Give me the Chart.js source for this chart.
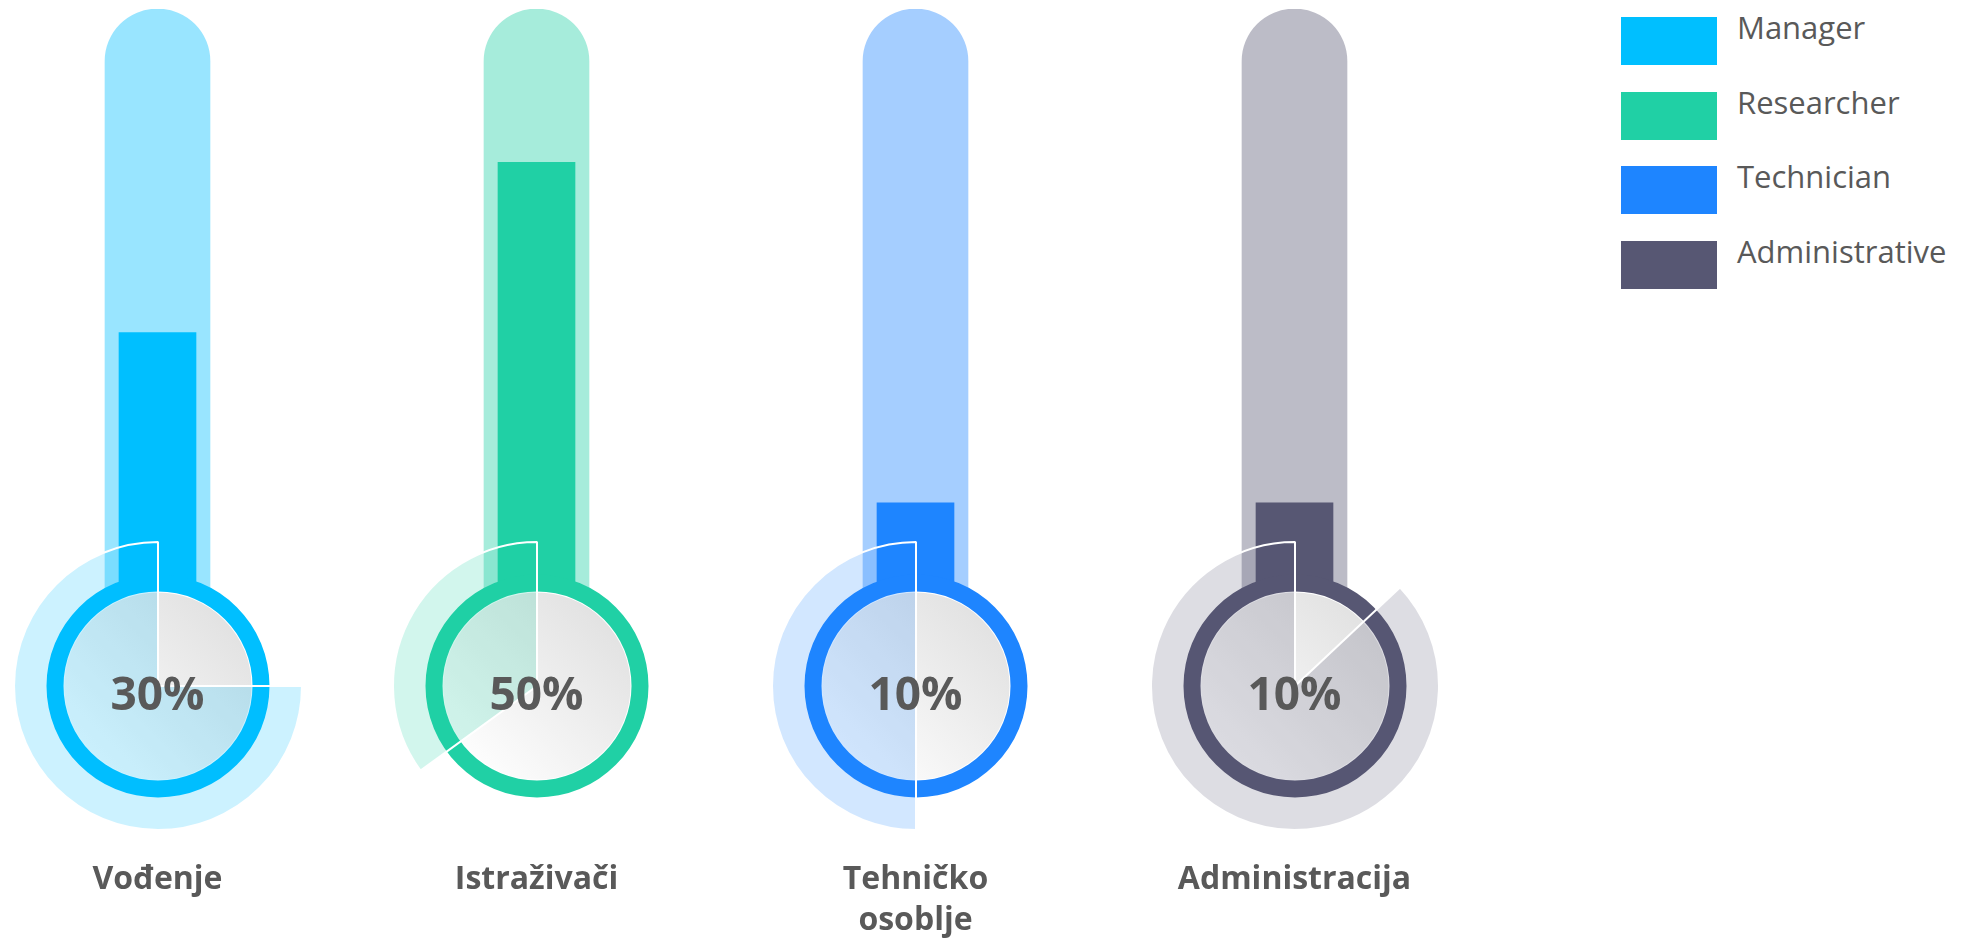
<!DOCTYPE html>
<html><head><meta charset="utf-8">
<script src="https://cdn.jsdelivr.net/npm/chart.js@4"></script>
<style>
html,body{margin:0;padding:0;width:1963px;height:938px;overflow:hidden;background:#fff;font-family:"Open Sans",sans-serif;}
#stage{position:relative;width:1963px;height:938px;overflow:hidden;}
canvas{position:absolute;}
.pct{position:absolute;width:220px;height:46px;line-height:46px;text-align:center;font:700 46px "Open Sans",sans-serif;color:#595959;white-space:nowrap;}
.lg-box{position:absolute;left:1621px;width:96px;height:48px;}
.lg-txt{position:absolute;left:1737px;font:400 31px "Open Sans",sans-serif;color:#595959;line-height:31px;white-space:nowrap;}
</style></head><body><div id="stage">
<canvas id="bars" width="1516" height="941" style="left:-32px;top:0"></canvas>
</div>
<script>
// ---- data ----
const categories = [['Vođenje'], ['Istraživači'], ['Tehničko', 'osoblje'], ['Administracija']];
const seriesNames = ['Manager', 'Researcher', 'Technician', 'Administrative'];
const fillValues = [30, 50, 10, 10];        // thermometer fill (%)
const tubeValues = [68, 68, 68, 68];        // thermometer capacity on the same scale
const sectorValues = [75, 35, 50, 87];      // share of the pale sector around the bulb (%)
const colors = ['#00BFFF', '#20D0A5', '#1E85FF', '#575773'];
const axisMin = -30.9, axisMax = 68, bulbBase = -8;

// ---- helpers ----
function rgba(hex, a) {
  const n = parseInt(hex.slice(1), 16);
  return `rgba(${(n >> 16) & 255},${(n >> 8) & 255},${n & 255},${a})`;
}
Chart.defaults.font.family = '"Open Sans", sans-serif';
Chart.defaults.animation = false;

const stage = document.getElementById('stage');
const BAR_OFFSET_X = -32;
const BULB_Y = 686;

// ---- thermometer tubes & fills ----
const barChart = new Chart(document.getElementById('bars'), {
  type: 'bar',
  data: {
    labels: categories,
    datasets: [
      {
        label: 'fill',
        data: fillValues.map(v => [bulbBase, v]),
        backgroundColor: colors,
        barThickness: 77,
        grouped: false,
        borderSkipped: 'start'
      },
      {
        label: 'tube',
        data: tubeValues.map(v => [bulbBase, v]),
        backgroundColor: colors.map(c => rgba(c, 0.4)),
        barThickness: 105,
        grouped: false,
        borderSkipped: 'start',
        borderRadius: { topLeft: 52.5, topRight: 52.5, bottomLeft: 0, bottomRight: 0 }
      }
    ]
  },
  options: {
    responsive: false,
    events: [],
    layout: { padding: { top: 9, left: 0, right: 0, bottom: 0 } },
    plugins: { legend: { display: false }, tooltip: { enabled: false } },
    scales: {
      x: {
        grid: { display: false },
        border: { display: false },
        ticks: {
          autoSkip: false, maxRotation: 0, padding: 0,
          color: '#595959',
          font: { size: 32, weight: 'bold', lineHeight: 1.28 }
        }
      },
      y: { display: false, min: axisMin, max: axisMax }
    }
  }
});

// ---- bulbs ----
categories.forEach((cat, i) => {
  const cx = barChart.scales.x.getPixelForValue(i) + BAR_OFFSET_X;
  const size = 300;

  const mk = () => {
    const c = document.createElement('canvas');
    c.width = size; c.height = size;
    c.style.left = (cx - size / 2) + 'px';
    c.style.top = (BULB_Y - size / 2) + 'px';
    stage.appendChild(c);
    return c;
  };

  // ring + inner glass disc
  new Chart(mk(), {
    type: 'pie',
    data: {
      labels: [seriesNames[i]],
      datasets: [
        { data: [100], backgroundColor: [colors[i]], borderWidth: 0, weight: 17 },
        {
          data: [100],
          weight: 94.5,
          borderColor: '#ffffff',
          borderWidth: 2,
          backgroundColor: (ctx) => {
            const ch = ctx.chart, a = ch.chartArea;
            if (!a) return '#eeeeee';
            const x = (a.left + a.right) / 2, y = (a.top + a.bottom) / 2, r = 94.5 * 0.72;
            const g = ch.ctx.createLinearGradient(x + r, y - r, x - r, y + r);
            g.addColorStop(0, '#e2e2e2');
            g.addColorStop(1, '#fdfdfd');
            return g;
          }
        }
      ]
    },
    options: {
      responsive: false, events: [], radius: 111.5,
      layout: { padding: 0 },
      plugins: { legend: { display: false }, tooltip: { enabled: false } }
    }
  });

  // pale sector
  new Chart(mk(), {
    type: 'pie',
    data: {
      labels: ['', seriesNames[i]],
      datasets: [{
        data: [100 - sectorValues[i], sectorValues[i]],
        backgroundColor: ['rgba(0,0,0,0)', rgba(colors[i], 0.2)],
        borderColor: ['rgba(0,0,0,0)', '#ffffff'],
        borderWidth: [0, 2]
      }]
    },
    options: {
      responsive: false, events: [], radius: 144,
      layout: { padding: 0 },
      plugins: { legend: { display: false }, tooltip: { enabled: false } }
    }
  });

  // percentage label
  const t = document.createElement('div');
  t.className = 'pct';
  t.textContent = fillValues[i] + '%';
  t.style.left = (cx - 110) + 'px';
  t.style.top = (BULB_Y - 25) + 'px';
  stage.appendChild(t);
});

// ---- legend ----
seriesNames.forEach((name, i) => {
  const top = 17 + i * 74.7;
  const b = document.createElement('div');
  b.className = 'lg-box';
  b.style.top = top + 'px';
  b.style.background = colors[i];
  stage.appendChild(b);
  const t = document.createElement('div');
  t.className = 'lg-txt';
  t.style.top = (top - 5) + 'px';
  t.textContent = name;
  stage.appendChild(t);
});
</script>
</body></html>
